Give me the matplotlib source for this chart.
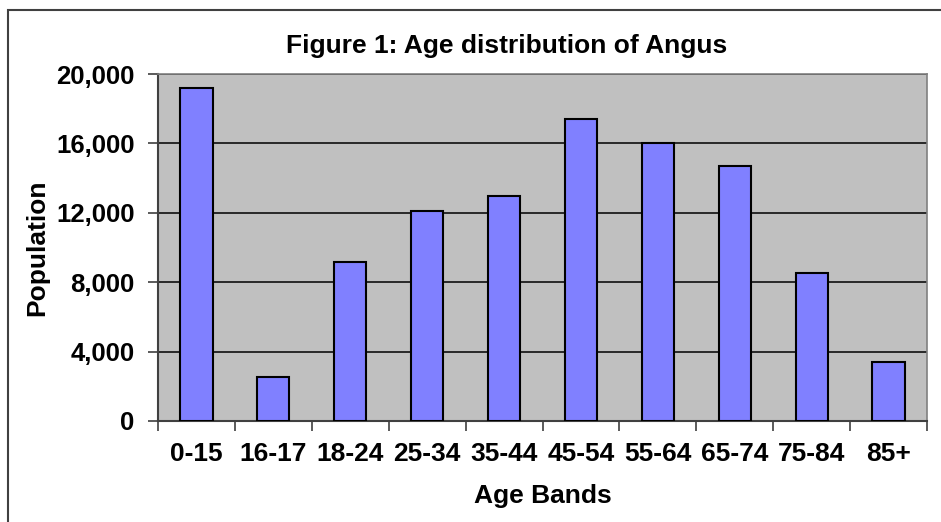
import numpy as np
import matplotlib
matplotlib.use("Agg")
import matplotlib.pyplot as plt
from matplotlib.patches import Rectangle

plt.rcParams['font.family'] = ['Liberation Sans', 'DejaVu Sans']
plt.rcParams['font.weight'] = 'bold'

age_bands = ['0-15', '16-17', '18-24', '25-34', '35-44', '45-54', '55-64', '65-74', '75-84', '85+']
population = [19200, 2550, 9150, 12100, 12950, 17400, 16050, 14700, 8550, 3400]
y_ticks = [0, 4000, 8000, 12000, 16000, 20000]

W, H = 941, 522
fig = plt.figure(figsize=(W / 100, H / 100), dpi=100)
ax = fig.add_axes([158 / W, (H - 421) / H, 769 / W, 347 / H])
ax.set_facecolor('#C0C0C0')

x = np.arange(len(age_bands))
ax.bar(x, population, width=0.42, color='#8080FF', edgecolor='black', linewidth=1.5, zorder=3)

ax.set_xlim(-0.5, len(age_bands) - 0.5)
ax.set_ylim(0, 20000)

# gridlines
ax.set_yticks(y_ticks)
ax.set_yticklabels([f'{v:,}' for v in y_ticks])
ax.yaxis.grid(True, color='black', linewidth=1.1, zorder=1)
ax.set_axisbelow(True)

# categories centred, tick marks on the boundaries
ax.set_xticks(x)
ax.set_xticklabels(age_bands)
ax.set_xticks(np.arange(len(age_bands) + 1) - 0.5, minor=True)
ax.tick_params(axis='x', which='major', length=0, pad=15, labelsize=19)
ax.tick_params(axis='x', which='minor', length=7, width=1.2, color='#404040', direction='out')
ax.tick_params(axis='y', length=7, width=1.2, color='#404040', pad=10, labelsize=18.5)

for side in ['top', 'right']:
    ax.spines[side].set_color('#808080')
    ax.spines[side].set_linewidth(1.2)
for side in ['left', 'bottom']:
    ax.spines[side].set_color('#404040')
    ax.spines[side].set_linewidth(1.5)

ax.set_xlabel('Age Bands', fontsize=19, fontweight='bold')
ax.set_ylabel('Population', fontsize=19, fontweight='bold')
ax.xaxis.set_label_coords(0.5, (421 - 496) / 347)
ax.xaxis.label.set_va('center')
ax.yaxis.set_label_coords((37 - 158) / 769, 0.5)
ax.yaxis.label.set_va('center')

fig.text(507 / W, 1 - 53 / H, 'Figure 1: Age distribution of Angus',
         ha='center', va='baseline', fontsize=19, fontweight='bold')

# chart border (only left and top edges show in the picture)
fig.patches.append(Rectangle((8 / W, -0.1), 2, 1.1 - 10 / H, transform=fig.transFigure,
                             fill=False, edgecolor='#404040', linewidth=1.5))

fig.savefig('out.png', dpi=100)
